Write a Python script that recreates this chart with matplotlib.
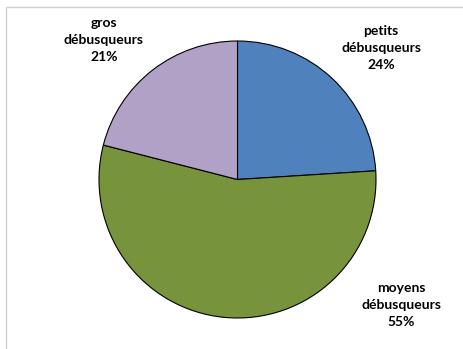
import matplotlib.pyplot as plt
from matplotlib.patches import Rectangle

# Répartition des débusqueurs
noms = ['petits\ndébusqueurs', 'moyens\ndébusqueurs', 'gros\ndébusqueurs']
parts = [24, 55, 21]
couleurs = ['#4F81BD', '#77933C', '#B2A1C7']
# position des étiquettes (pixels, origine en haut à gauche)
etiq_x = [381, 401, 104]
etiq_y = [48, 305, 40]

W, H = 463, 349
fig = plt.figure(figsize=(W / 100, H / 100), dpi=100)
ax = fig.add_axes([0, 0, 1, 1])

# cadre du graphique
ax.add_patch(Rectangle((6, -10), W, H - 7 + 10, fill=False,
                       edgecolor='#D0D0D0', linewidth=1.0))

ax.pie(parts, colors=couleurs, startangle=90, counterclock=False,
       center=(237.5, H - 179.5), radius=138.5, frame=True,
       wedgeprops=dict(edgecolor='black', linewidth=0.8))
ax.set_xlim(0, W)
ax.set_ylim(0, H)
ax.set_aspect('equal')
ax.axis('off')

for nom, p, x, y in zip(noms, parts, etiq_x, etiq_y):
    ax.text(x, H - y, f"{nom}\n{p}%", ha='center', va='center',
            fontfamily='Lato', fontweight='bold', fontsize=10,
            linespacing=1.5)

fig.savefig('out.png', dpi=100)
